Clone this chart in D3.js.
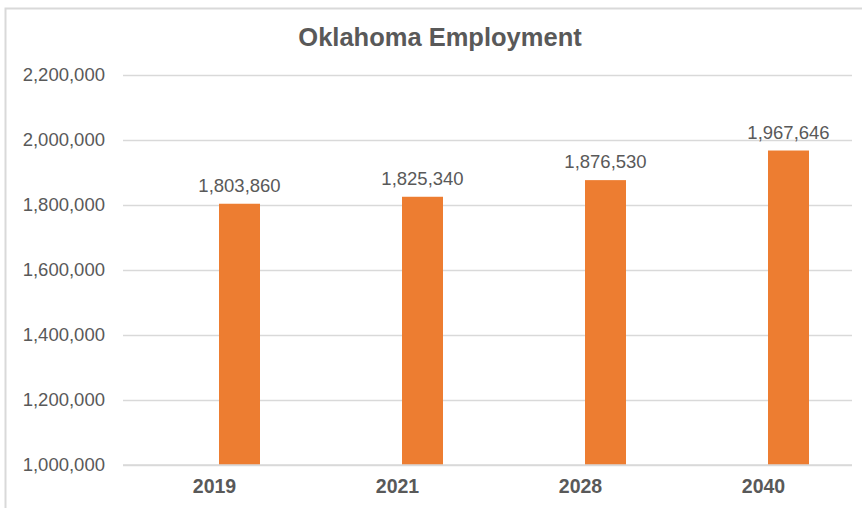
<!DOCTYPE html>
<html>
<head>
<meta charset="utf-8">
<script src="https://cdn.jsdelivr.net/npm/d3@7"></script>
<style>
  html, body { margin: 0; padding: 0; background: #fff; }
  svg { display: block; font-family: "Liberation Sans", Arial, sans-serif; }
</style>
</head>
<body>
<svg id="chart" width="862" height="508"></svg>
<script>
// Oklahoma employment by year
const years = ["2019", "2021", "2028", "2040"];
const employment = [1803860, 1825340, 1876530, 1967646];
const yTicks = [1000000, 1200000, 1400000, 1600000, 1800000, 2000000, 2200000];
const chartTitle = "Oklahoma Employment";

const W = 862, H = 508;
const plot = { left: 123, right: 855, top: 75, bottom: 465 };
const barWidth = 41;
const barShift = 4.5;
const textColor = "#595959";
const gridColor = "#d9d9d9";
const barColor = "#ED7D31";

const svg = d3.select("#chart");

// chart area frame
svg.append("rect")
  .attr("x", 5.5).attr("y", 8.5)
  .attr("width", W + 10).attr("height", H + 10)
  .attr("fill", "#fff")
  .attr("stroke", "#d9d9d9")
  .attr("stroke-width", 2);

const x = d3.scaleBand().domain(years).range([plot.left, plot.right]).padding(0);
const y = d3.scaleLinear().domain([1000000, 2200000]).range([plot.bottom, plot.top]);

// title
svg.append("text")
  .attr("x", 440).attr("y", 46)
  .attr("text-anchor", "middle")
  .attr("font-size", 25.5)
  .attr("font-weight", "bold")
  .attr("fill", textColor)
  .text(chartTitle);

// horizontal gridlines
const yAxis = d3.axisLeft(y)
  .tickValues(yTicks)
  .tickFormat(d3.format(","))
  .tickSize(-(852 - plot.left))
  .tickPadding(18);

const gy = svg.append("g")
  .attr("transform", `translate(${plot.left},0)`)
  .call(yAxis);
gy.select(".domain").remove();
gy.selectAll(".tick line")
  .attr("stroke", gridColor)
  .attr("stroke-width", 1.3);
gy.selectAll(".tick text")
  .attr("font-size", 18.5)
  .attr("fill", textColor)
  .attr("font-family", "'Liberation Sans', Arial, sans-serif");

// bars
const data = years.map((yr, i) => ({ year: yr, value: employment[i] }));

svg.append("g").selectAll("rect")
  .data(data)
  .join("rect")
  .attr("x", d => x(d.year) + x.bandwidth() / 2 + barShift)
  .attr("width", barWidth)
  .attr("y", d => y(d.value))
  .attr("height", d => y(1000000) - y(d.value))
  .attr("fill", barColor);

// value labels
svg.append("g").selectAll("text")
  .data(data)
  .join("text")
  .attr("x", d => x(d.year) + x.bandwidth() / 2 + barShift + barWidth / 2)
  .attr("y", d => y(d.value) - 12)
  .attr("text-anchor", "middle")
  .attr("font-size", 18.5)
  .attr("fill", textColor)
  .text(d => d3.format(",")(d.value));

// category axis
const xAxis = d3.axisBottom(x).tickSize(0).tickPadding(14);
const gx = svg.append("g")
  .attr("transform", `translate(0,${plot.bottom})`)
  .call(xAxis);
gx.select(".domain").remove();
gx.selectAll(".tick text")
  .attr("font-size", 19.5)
  .attr("font-weight", "bold")
  .attr("fill", textColor)
  .attr("font-family", "'Liberation Sans', Arial, sans-serif");

// baseline
svg.append("line")
  .attr("x1", plot.left).attr("x2", 852)
  .attr("y1", plot.bottom).attr("y2", plot.bottom)
  .attr("stroke", gridColor)
  .attr("stroke-width", 1.3);
</script>
</body>
</html>
